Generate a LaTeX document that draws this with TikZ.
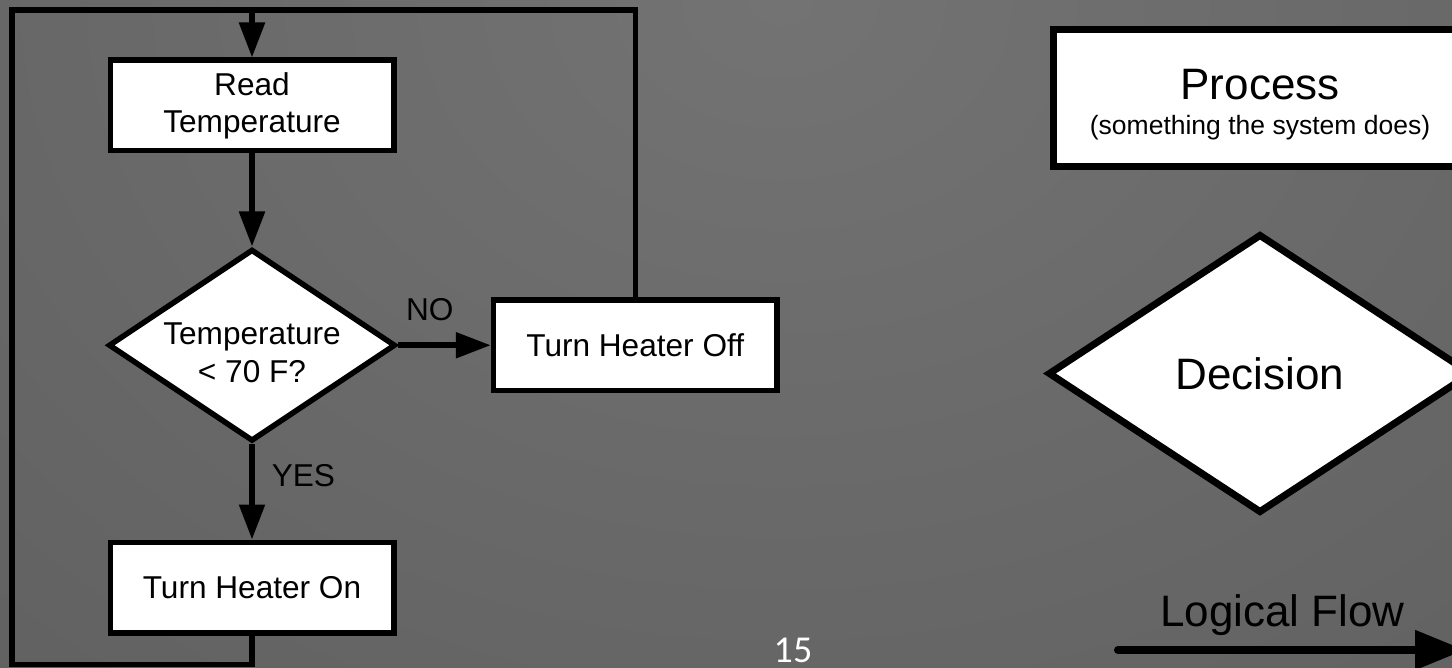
\documentclass[tikz,border=0pt]{standalone}
\usepackage{fontspec}
\setmainfont{Liberation Sans}
\newfontfamily\slidefont{Carlito}
\usepackage{tikz}
\usetikzlibrary{
  shapes.geometric,
  arrows.meta,
  positioning
}
\definecolor{BgLight}{HTML}{737373}
\definecolor{BgDark}{HTML}{4A4A4A}
% lower a line of text, keep its box
\newcommand{\dropline}[2]{\raisebox{-#1}[\height][\depth]{#2}}
\tikzset{
  % Process box of the chart
  procbox/.style={
    rectangle, draw=black, fill=white, line width=5.5pt,
    minimum width=283.5pt, minimum height=90.5pt, inner sep=0pt,
    align=center, font=\fontsize{31.6}{37}\selectfont
  },
  % Decision diamond of the chart
  decbox/.style={
    diamond, aspect=1.55, draw=black, fill=white, line width=5.5pt,
    minimum width=287pt, minimum height=192pt, inner sep=0pt,
    align=center, font=\fontsize{31.6}{38}\selectfont
  },
  % Arrow
  flow/.style={-{Triangle[length=35pt,width=25pt]}, line width=5.5pt, draw=black},
  % Plain line
  wire/.style={line width=5.5pt, draw=black},
  % Edge label
  lbl/.style={font=\fontsize{31.6}{37}\selectfont, inner sep=0pt},
  % Legend shapes
  legproc/.style={
    rectangle, draw=black, fill=white, line width=7pt,
    minimum width=413pt, minimum height=137pt, inner sep=0pt,
    align=center, font=\fontsize{44}{35}\selectfont
  },
  legdec/.style={
    diamond, aspect=1.5, draw=black, fill=white, line width=7pt,
    minimum width=424pt, minimum height=279pt, inner sep=0pt,
    font=\fontsize{44}{52}\selectfont
  }
}

\begin{document}
\begin{tikzpicture}[x=1pt, y=1pt]

  % ---- BACKGROUND ----
  \useasboundingbox (0,0) rectangle (1452,-668);
  \begin{scope}
    \clip (0,0) rectangle (1452,-668);
    \shade[inner color=BgLight, outer color=BgDark]
      (780,0) ellipse [x radius=2710pt, y radius=2100pt];
  \end{scope}

  % ---- CHART ----
  \node[procbox] (read) at (252,-105.5) {Read\\Temperature};
  \node[decbox,  below=93pt of read] (dec)
    {\dropline{8pt}{Temperature}\\\dropline{8pt}{< 70 F?}};
  \node[procbox, right=92.5pt of dec]  (hoff) {Turn Heater Off};
  \node[procbox, below=95.5pt of dec]  (hon)  {Turn Heater On};

  \coordinate (loopbl) at (12,-664.5);
  \coordinate (looptl) at (12,-10);

  % ---- ARROWS ----
  \draw[flow] (read) -- (dec);
  \draw[flow] (dec) -- node[lbl, above=22pt, pos=0.34]{NO}  (hoff);
  \draw[flow] (dec) -- node[lbl, right=17pt, pos=0.33]{YES} (hon);
  \draw[flow] (hon.south) |- (loopbl) -- (looptl) -| (read.north);
  \draw[wire] (hoff.north) |- (read.north |- looptl);

  % ---- LEGEND ----
  \node[legproc] (legproc) at (1260,-98.5)
    {\dropline{6pt}{Process}\\
     \dropline{6pt}{\fontsize{26.5}{35}\selectfont (something the system does)}};
  \node[legdec] (legdec) at (1260,-373.5) {Decision};
  \node[font=\fontsize{44}{52}\selectfont, anchor=base] (legflow) at (1282.5,-626) {Logical Flow};
  \coordinate (flowa) at (1118,-650);
  \coordinate (flowb) at (1465,-650);
  \draw[line width=8pt, line cap=round, -{Triangle[length=50pt,width=38pt]}] (flowa) -- (flowb);

  % ---- PAGE NUMBER ----
  \node[font=\slidefont\fontsize{38}{40}\selectfont, text=white, anchor=base] (pagenum) at (793,-662) {15};

\end{tikzpicture}
\end{document}
